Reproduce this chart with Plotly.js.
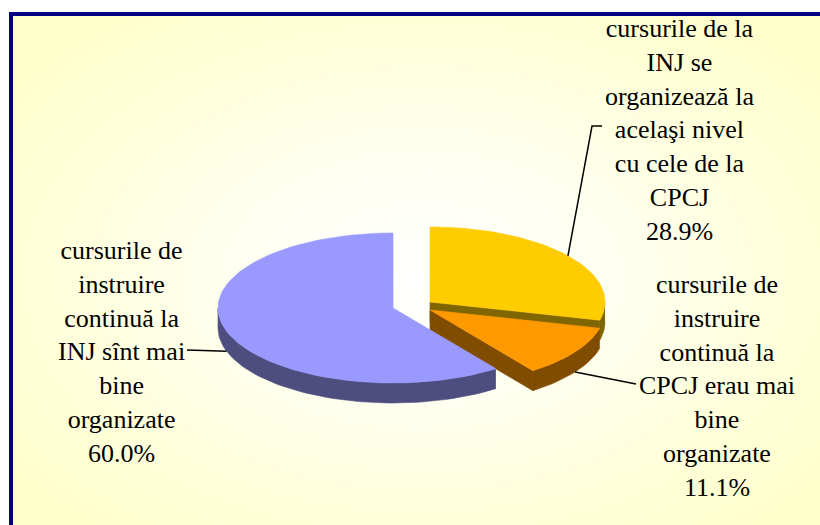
<!DOCTYPE html>
<html>
<head>
<meta charset="utf-8">
<script src="https://cdn.plot.ly/plotly-3.0.1.min.js"></script>
</head>
<body style="margin:0">
<div id="chart"></div>
<script>
// ---- data ----
const categories = [
  "cursurile de la INJ se organizează la acelaşi nivel cu cele de la CPCJ",
  "cursurile de instruire continuă la CPCJ erau mai bine organizate",
  "cursurile de instruire continuă la INJ sînt mai bine organizate"
];
const labelLines = [
  ["cursurile de la", "INJ se", "organizează la", "acelaşi nivel", "cu cele de la", "CPCJ"],
  ["cursurile de", "instruire", "continuă la", "CPCJ erau mai", "bine", "organizate"],
  ["cursurile de", "instruire", "continuă la", "INJ sînt mai", "bine", "organizate"]
];
const values = [28.9, 11.1, 60.0];
const topColors = ["#FFCC00", "#FF9900", "#9999FF"];
const sideColors = ["#806600", "#804C00", "#4D4D80"];

// ---- layout geometry (pixels) ----
const G = {cx: 393, cy: 308, rx: 175, ry: 75, depth: 20};
const offsets = [[37, -6], [37, 2], [0, 0]];
const labelPos = [[679, 130], [717, 386], [121, 352]];
const leaderEnds = [[[592, 126], [602, 126]], [[636, 384]], [[187, 350]]];

const total = values.reduce((a, b) => a + b, 0);
const rad = d => d * Math.PI / 180;
function pt(c, a, dz) {
  return [c[0] + G.rx * Math.sin(rad(a)), c[1] - G.ry * Math.cos(rad(a)) + (dz || 0)];
}
function arc(c, a1, a2, dz) {
  const n = Math.max(2, Math.ceil(Math.abs(a2 - a1) / 2));
  const out = [];
  for (let i = 0; i <= n; i++) out.push(pt(c, a1 + (a2 - a1) * i / n, dz));
  return out;
}
function poly(points, color) {
  return {
    type: 'scatter', mode: 'lines', fill: 'toself', fillcolor: color,
    x: points.map(p => p[0]), y: points.map(p => p[1]),
    line: {color: color, width: 0.6}, hoverinfo: 'skip', showlegend: false
  };
}

// background gradient as an inline SVG image
const bgSvg = '<svg xmlns="http://www.w3.org/2000/svg" width="820" height="525">' +
  '<defs><radialGradient id="g" cx="50%" cy="50%" r="62%">' +
  '<stop offset="0" stop-color="#ffffff"/><stop offset="0.3" stop-color="#fffff4"/>' +
  '<stop offset="1" stop-color="#ffffcc"/></radialGradient></defs>' +
  '<rect x="0" y="0" width="820" height="525" fill="url(#g)"/></svg>';
const bgSrc = 'data:image/svg+xml;charset=utf-8,' + encodeURIComponent(bgSvg);

const traces = [];
const shapes = [
  {type: 'line', xref: 'paper', yref: 'paper', x0: 11 / 820, x1: 11 / 820, y0: 0, y1: 1 - 12 / 525,
   line: {color: '#000080', width: 4}, layer: 'below'},
  {type: 'line', xref: 'paper', yref: 'paper', x0: 9 / 820, x1: 1, y0: 1 - 14 / 525, y1: 1 - 14 / 525,
   line: {color: '#000080', width: 4}, layer: 'below'}
];
const annotations = [];
let cum = 0;
values.forEach((v, i) => {
  const a1 = cum / total * 360;
  const a2 = (cum + v) / total * 360;
  cum += v;
  const c = [G.cx + offsets[i][0], G.cy + offsets[i][1]];
  const cb = [c[0], c[1] + G.depth];
  if (Math.sin(rad(a2)) > 0.01) {
    traces.push(poly([c, pt(c, a2), pt(c, a2, G.depth), cb, c], sideColors[i]));
  }
  if (Math.sin(rad(a1)) < -0.01) {
    traces.push(poly([c, pt(c, a1), pt(c, a1, G.depth), cb, c], sideColors[i]));
  }
  const r1 = Math.max(a1, 90), r2 = Math.min(a2, 270);
  if (r2 > r1) {
    traces.push(poly(arc(c, r1, r2, 0).concat(arc(c, r1, r2, G.depth).reverse()), sideColors[i]));
  }
  traces.push(poly([c].concat(arc(c, a1, a2, 0)).concat([c]), topColors[i]));

  const mid = (a1 + a2) / 2;
  const front = Math.cos(rad(mid)) < 0;
  const s = pt(c, mid, front ? G.depth : 0);
  let d = 'M ' + s[0] + ' ' + s[1];
  leaderEnds[i].forEach(e => { d += ' L ' + e[0] + ' ' + e[1]; });
  shapes.push({type: 'path', xref: 'x', yref: 'y', path: d, line: {color: '#000000', width: 1.5}});

  annotations.push({
    x: labelPos[i][0], y: labelPos[i][1], xref: 'x', yref: 'y',
    text: labelLines[i].concat([v.toFixed(1) + '%']).join('<br>'),
    showarrow: false, xanchor: 'center', yanchor: 'middle',
    font: {family: 'Liberation Serif', size: 26, color: '#000000'}
  });
});

const layout = {
  width: 820, height: 525,
  margin: {l: 0, r: 0, t: 0, b: 0},
  paper_bgcolor: '#ffffff', plot_bgcolor: 'rgba(0,0,0,0)',
  xaxis: {range: [0, 820], visible: false},
  yaxis: {range: [525, 0], visible: false},
  images: [{source: bgSrc, xref: 'paper', yref: 'paper', x: 13 / 820, y: 1 - 16 / 525,
            sizex: 1, sizey: 1, xanchor: 'left', yanchor: 'top', sizing: 'stretch', layer: 'below'}],
  shapes: shapes, annotations: annotations, showlegend: false
};
Plotly.newPlot('chart', traces, layout, {staticPlot: true});
</script>
</body>
</html>
